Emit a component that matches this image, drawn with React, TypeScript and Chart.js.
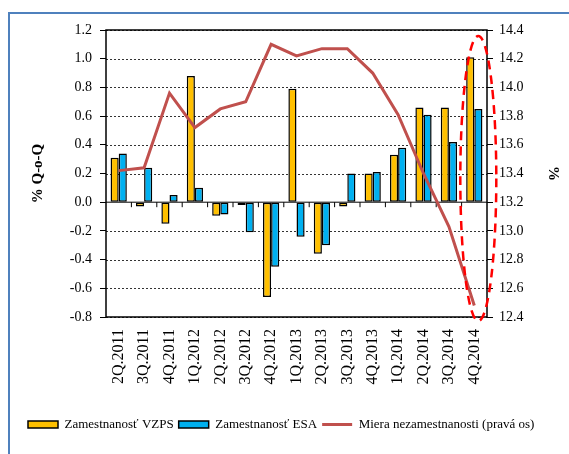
import React, { useEffect, useRef } from "react";
import { Chart, registerables } from "chart.js";

Chart.register(...registerables);

const categories = [
  "2Q.2011", "3Q.2011", "4Q.2011", "1Q.2012", "2Q.2012", "3Q.2012", "4Q.2012",
  "1Q.2013", "2Q.2013", "3Q.2013", "4Q.2013", "1Q.2014", "2Q.2014", "3Q.2014", "4Q.2014",
];
const vzps = [0.31, -0.03, -0.15, 0.88, -0.095, -0.02, -0.66, 0.79, -0.36, -0.03, 0.20, 0.33, 0.66, 0.66, 1.01];
const esa = [0.34, 0.24, 0.05, 0.10, -0.085, -0.21, -0.45, -0.24, -0.30, 0.20, 0.21, 0.38, 0.61, 0.42, 0.65];
const unemployment = [13.42, 13.44, 13.96, 13.72, 13.85, 13.90, 14.30, 14.22, 14.27, 14.27, 14.10, 13.81, 13.40, 13.03, 12.48];

const seriesNames = ["Zamestnanosť VZPS", "Zamestnanosť ESA", "Miera nezamestnanosti (pravá os)"];
const leftTitle = "% Q-o-Q";
const rightTitle = "%";

const ORANGE = "#FFC000";
const BLUE = "#00B0F0";
const RED_LINE = "#C0504D";
const FONT = "'Liberation Serif', 'Times New Roman', serif";

const fmt = (v: number) => (Math.abs(v) < 1e-9 ? "0.0" : Number(v).toFixed(1));

const framePlugin = {
  id: "frame",
  beforeDatasetsDraw(chart: any) {
    const { ctx, chartArea: a, scales } = chart;
    const ys = scales.y;
    const y0 = ys.getPixelForValue(0);
    const x = scales.x;
    ctx.save();
    // dotted grid lines
    ctx.strokeStyle = "#333";
    ctx.lineWidth = 1;
    ctx.setLineDash([2, 2]);
    ctx.beginPath();
    ys.ticks.forEach((t: any) => {
      const py = Math.round(ys.getPixelForValue(t.value)) + 0.5;
      if (Math.abs(t.value) < 1e-9) return;
      ctx.moveTo(a.left, py);
      ctx.lineTo(a.right, py);
    });
    ctx.stroke();
    ctx.setLineDash([]);
    ctx.strokeStyle = "#000";
    ctx.lineWidth = 1;
    ctx.beginPath();
    ctx.moveTo(a.left, y0);
    ctx.lineTo(a.right, y0);
    for (let i = 1; i < categories.length; i++) {
      const px = (x.getPixelForValue(i - 1) + x.getPixelForValue(i)) / 2;
      ctx.moveTo(px, y0);
      ctx.lineTo(px, y0 + 5);
    }
    ctx.stroke();
    ctx.lineWidth = 1.5;
    ctx.strokeRect(a.left, a.top, a.right - a.left, a.bottom - a.top);
    ctx.restore();
  },
  afterDatasetsDraw(chart: any) {
    const { ctx, chartArea: a, scales } = chart;
    const cx = scales.x.getPixelForValue(categories.length - 1) + 4;
    const top = a.top + 6;
    const bottom = a.bottom + 4;
    ctx.save();
    ctx.strokeStyle = "#FF0000";
    ctx.lineWidth = 2.5;
    ctx.setLineDash([9, 6]);
    ctx.beginPath();
    ctx.ellipse(cx, (top + bottom) / 2, 18, (bottom - top) / 2, 0, 0, Math.PI * 2);
    ctx.stroke();
    ctx.restore();
  },
};

export default function App() {
  const ref = useRef<HTMLCanvasElement | null>(null);

  useEffect(() => {
    if (!ref.current) return;
    Chart.defaults.font.family = FONT;
    Chart.defaults.color = "#000";
    const chart = new Chart(ref.current, {
      type: "bar",
      data: {
        labels: categories,
        datasets: [
          {
            type: "bar",
            label: seriesNames[0],
            data: vzps,
            backgroundColor: ORANGE,
            borderColor: "#000",
            borderWidth: 1.5,
            borderSkipped: false,
            yAxisID: "y",
            order: 1,
            categoryPercentage: 0.64,
            barPercentage: 1,
          },
          {
            type: "bar",
            label: seriesNames[1],
            data: esa,
            backgroundColor: BLUE,
            borderColor: "#000",
            borderWidth: 1.5,
            borderSkipped: false,
            yAxisID: "y",
            order: 1,
            categoryPercentage: 0.64,
            barPercentage: 1,
          },
          {
            type: "line",
            label: seriesNames[2],
            data: unemployment,
            borderColor: RED_LINE,
            backgroundColor: RED_LINE,
            borderWidth: 3,
            pointRadius: 0,
            tension: 0,
            yAxisID: "y1",
            order: 0,
          },
        ],
      } as any,
      options: {
        responsive: false,
        animation: false,
        layout: { padding: { top: 30, left: 23, right: 0, bottom: 13 } },
        plugins: {
          tooltip: { enabled: false },
          legend: {
            position: "bottom",
            align: "start",
            labels: {
              usePointStyle: true,
              pointStyleWidth: 30,
              boxHeight: 7,
              padding: 5,
              color: "#000",
              font: { size: 13, family: FONT },
              generateLabels: (c: any) => {
                const items = (Chart.defaults.plugins.legend.labels as any).generateLabels(c);
                items.sort((p: any, q: any) => p.datasetIndex - q.datasetIndex);
                return items.map((it: any) =>
                  it.datasetIndex === 2
                    ? { ...it, pointStyle: "line", strokeStyle: RED_LINE, lineWidth: 3 }
                    : { ...it, pointStyle: "rect", strokeStyle: "#000", lineWidth: 1.5 }
                );
              },
            },
          },
        },
        scales: {
          x: {
            grid: { display: false, drawTicks: false },
            border: { display: false },
            ticks: {
              autoSkip: false,
              minRotation: 90,
              maxRotation: 90,
              padding: 12,
              color: "#000",
              font: { size: 16, family: FONT },
            },
            afterFit: (s: any) => {
              s.height = 96;
            },
          },
          y: {
            position: "left",
            min: -0.8,
            max: 1.2,
            ticks: {
              stepSize: 0.2,
              padding: 8,
              color: "#000",
              font: { size: 14, family: FONT },
              callback: (v: any) => fmt(v),
            },
            grid: {
              drawOnChartArea: false,
              tickLength: 6,
              color: "#000",
            },
            border: { display: false },
            title: {
              display: true,
              text: leftTitle,
              color: "#000",
              font: { size: 15, weight: "bold", family: FONT },
              padding: { top: 6, bottom: 0 },
            },
            afterFit: (s: any) => {
              s.width = 83;
            },
          },
          y1: {
            position: "right",
            min: 12.4,
            max: 14.4,
            ticks: {
              stepSize: 0.2,
              padding: 6,
              color: "#000",
              font: { size: 14, family: FONT },
              callback: (v: any) => fmt(v),
            },
            grid: {
              drawOnChartArea: false,
              tickLength: 6,
              color: "#000",
            },
            border: { display: false },
            title: {
              display: true,
              text: rightTitle,
              color: "#000",
              font: { size: 15, weight: "bold", family: FONT },
              padding: { top: 7, bottom: 0 },
            },
            afterFit: (s: any) => {
              s.width = 82;
            },
          },
        },
      } as any,
      plugins: [framePlugin],
    });
    return () => chart.destroy();
  }, []);

  return (
    <div style={{ position: "fixed", left: 0, top: 0, width: 569, height: 454, background: "#fff", overflow: "hidden" }}>
      <div
        style={{
          position: "absolute",
          left: 8,
          top: 12,
          width: 600,
          height: 500,
          borderLeft: "2px solid #4F81BD",
          borderTop: "2px solid #4F81BD",
        }}
      />
      <canvas ref={ref} width={569} height={454} style={{ position: "absolute", left: 0, top: 0 }} />
    </div>
  );
}
